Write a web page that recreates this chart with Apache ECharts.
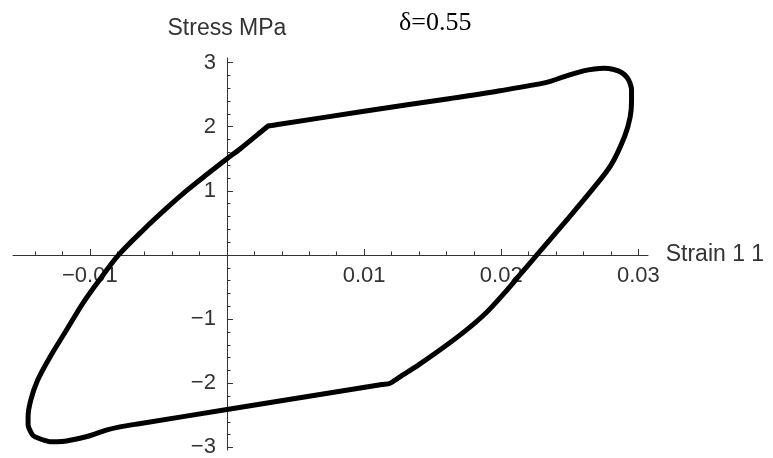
<!DOCTYPE html>
<html>
<head>
<meta charset="utf-8">
<script src="https://cdn.jsdelivr.net/npm/echarts@6/dist/echarts.min.js"></script>
<style>html,body{margin:0;padding:0;background:#fff}#c{width:773px;height:458px}</style>
</head>
<body>
<div id="c"></div>
<script>
// Hysteresis loop: Strain 1 1 (x) vs Stress MPa (y), traced clockwise from the upper-left knee
const strain = [0.0030, 0.0037, 0.0100, 0.0163, 0.0199, 0.0233, 0.0246, 0.0260,
                0.0268, 0.0275, 0.0282, 0.0288, 0.0292, 0.0294, 0.0295, 0.0295, 0.0294, 0.0290,
                0.0280, 0.0266, 0.0246, 0.0226, 0.0214, 0.0202, 0.0189, 0.0174, 0.0158,
                0.0140, 0.0124, 0.0119, 0.0113, 0.0000, -0.0064, -0.0078, -0.0088, -0.0102, -0.0117,
                -0.0124, -0.0129, -0.0133, -0.0137, -0.0141, -0.0143, -0.0145, -0.0145, -0.0143, -0.0138,
                -0.0129, -0.0117, -0.0105, -0.0093, -0.0079, -0.0061, -0.0044, -0.0029, -0.0015, 0.0000,
                0.0010, 0.0026, 0.0030];
const stress = [2.01, 2.033, 2.24, 2.44, 2.56, 2.69, 2.78, 2.87,
                2.90, 2.91, 2.89, 2.84, 2.76, 2.67, 2.57, 2.40, 2.15, 1.85,
                1.40, 1.01, 0.50, 0.00, -0.30, -0.60, -0.90, -1.18, -1.44,
                -1.71, -1.93, -2.00, -2.02, -2.41, -2.63, -2.68, -2.73, -2.83, -2.90,
                -2.91, -2.91, -2.89, -2.86, -2.82, -2.76, -2.65, -2.52, -2.26, -1.95,
                -1.59, -1.17, -0.75, -0.39, 0.00, 0.39, 0.73, 1.01, 1.25, 1.50,
                1.66, 1.94, 2.01];

const xMajorTicks = [-0.01, 0.01, 0.02, 0.03];
const xTickLabels = ['\u22120.01', '0.01', '0.02', '0.03'];
const xMinorTicks = [-0.014, -0.012, -0.008, -0.006, -0.004, -0.002, 0.002, 0.004, 0.006, 0.008,
                     0.012, 0.014, 0.016, 0.018, 0.022, 0.024, 0.026, 0.028];
const yMajorTicks = [-3, -2, -1, 1, 2, 3];
const yTickLabels = ['\u22123', '\u22122', '\u22121', '1', '2', '3'];
const yMinorTicks = [-2.8, -2.6, -2.4, -2.2, -1.8, -1.6, -1.4, -1.2, -0.8, -0.6, -0.4, -0.2,
                     0.2, 0.4, 0.6, 0.8, 1.2, 1.4, 1.6, 1.8, 2.2, 2.4, 2.6, 2.8];
const xName = 'Strain 1 1';
const yName = 'Stress MPa';
const annotation = '\u03b4=0.55';

const xMin = -0.0156, xMax = 0.0307;
const yMin = -3.04, yMax = 3.07;

const sans = 'Liberation Sans, Arial, sans-serif';
const txtColor = '#333';
const lineColor = '#333';

function lookup(vals, labels) {
  return function (v) {
    for (let i = 0; i < vals.length; i++) {
      if (Math.abs(vals[i] - v) < 1e-9) return labels[i];
    }
    return '';
  };
}

const GRID = {left: 13, right: 125, top: 58, bottom: 8};

function buildOption(xOff, yOff) {
  return {
    animation: false,
    backgroundColor: '#fff',
    grid: Object.assign({containLabel: false, outerBoundsMode: 'none'}, GRID),
    graphic: [{
      type: 'text', left: 399, top: 10,
      style: {text: annotation, fill: '#000', font: '26px "Liberation Serif", "Times New Roman", serif'}
    }],
    xAxis: [{
      type: 'value', min: xMin, max: xMax, position: 'bottom', offset: xOff,
      name: xName, nameLocation: 'end', nameGap: 17,
      nameTextStyle: {color: txtColor, fontSize: 23, fontFamily: sans, verticalAlign: 'middle'},
      axisLine: {show: true, onZero: false, lineStyle: {color: lineColor, width: 1}},
      axisTick: {show: true, inside: true, length: 6, customValues: xMajorTicks, lineStyle: {color: lineColor}},
      axisLabel: {show: true, customValues: xMajorTicks, formatter: lookup(xMajorTicks, xTickLabels),
                  margin: 10, fontSize: 22, fontFamily: sans, color: txtColor},
      splitLine: {show: false}
    }, {
      type: 'value', min: xMin, max: xMax, position: 'bottom', offset: xOff,
      axisLine: {show: false, onZero: false},
      axisTick: {show: true, inside: true, length: 3.5, customValues: xMinorTicks, lineStyle: {color: lineColor}},
      axisLabel: {show: false},
      splitLine: {show: false}
    }],
    yAxis: [{
      type: 'value', min: yMin, max: yMax, position: 'left', offset: yOff,
      name: yName, nameLocation: 'end', nameGap: 18,
      nameTextStyle: {color: txtColor, fontSize: 23, fontFamily: sans, align: 'center'},
      axisLine: {show: true, onZero: false, lineStyle: {color: lineColor, width: 1}},
      axisTick: {show: true, inside: true, length: 6, customValues: yMajorTicks, lineStyle: {color: lineColor}},
      axisLabel: {show: true, customValues: yMajorTicks, formatter: lookup(yMajorTicks, yTickLabels),
                  margin: 11, fontSize: 22, fontFamily: sans, color: txtColor},
      splitLine: {show: false}
    }, {
      type: 'value', min: yMin, max: yMax, position: 'left', offset: yOff,
      axisLine: {show: false, onZero: false},
      axisTick: {show: true, inside: true, length: 3.5, customValues: yMinorTicks, lineStyle: {color: lineColor}},
      axisLabel: {show: false},
      splitLine: {show: false}
    }],
    series: [{
      type: 'line',
      xAxisIndex: 0, yAxisIndex: 0,
      data: strain.map((x, i) => [x, stress[i]]),
      showSymbol: false,
      smooth: 0.3,
      clip: false,
      lineStyle: {color: '#000', width: 5, join: 'round', cap: 'round'},
      z: 5
    }]
  };
}

const el = document.getElementById('c');
const chart = echarts.init(el, null, {renderer: 'canvas'});
chart.setOption(buildOption(0, 0));
// Move both axes so they cross at the data origin, like the original plot
const origin = chart.convertToPixel({xAxisIndex: 0, yAxisIndex: 0}, [0, 0]);
const gridBottomPx = el.clientHeight - GRID.bottom;
const xOffset = -(gridBottomPx - origin[1]);
const yOffset = -(origin[0] - GRID.left);
chart.setOption(buildOption(xOffset, yOffset));
</script>
</body>
</html>
